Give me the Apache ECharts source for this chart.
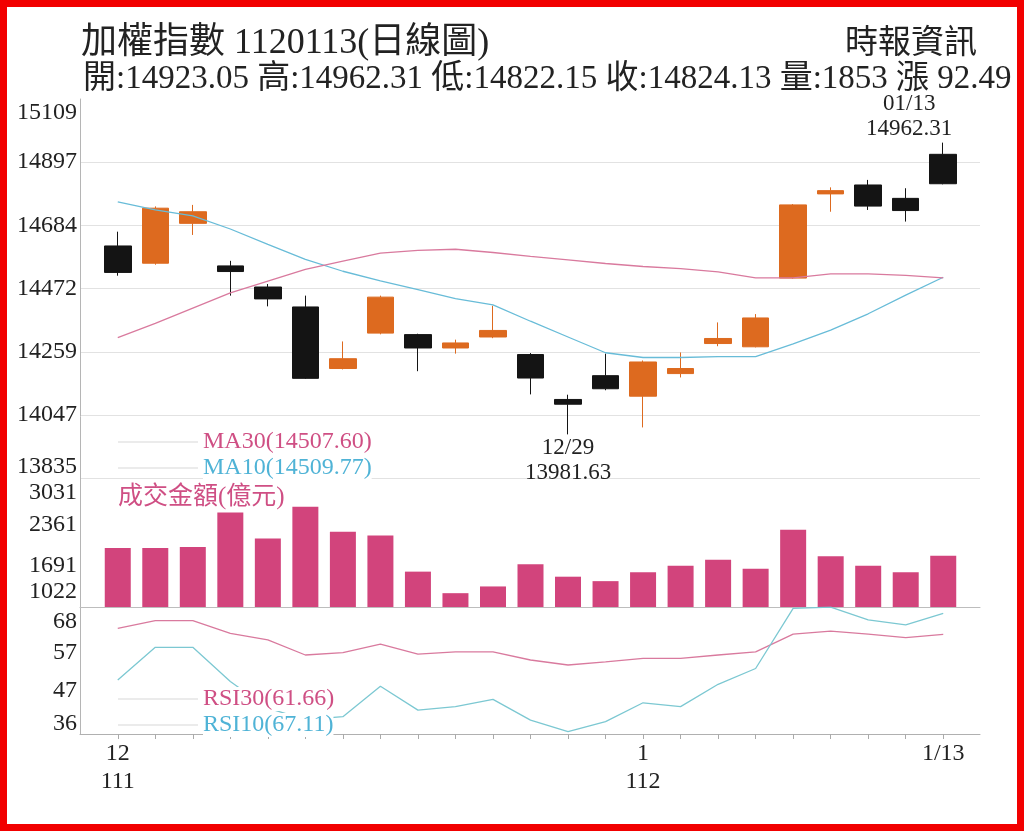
<!DOCTYPE html>
<html>
<head>
<meta charset="utf-8">
<title>加權指數 1120113(日線圖)</title>
<script src="https://cdn.jsdelivr.net/npm/echarts@6/dist/echarts.min.js"></script>
<style>
  html, body { margin: 0; padding: 0; background: #fff; }
  #main { width: 1024px; height: 831px; }
</style>
</head>
<body>
<div id="main"></div>
<script>
// 交易日 111/12/13 ~ 112/01/13
var dates = ['12/13', '12/14', '12/15', '12/16', '12/19', '12/20', '12/21', '12/22', '12/23', '12/26',
  '12/27', '12/28', '12/29', '12/30', '01/03', '01/04', '01/05', '01/06', '01/09', '01/10',
  '01/11', '01/12', '01/13'];
// K 線
var opens  = [14615, 14557, 14691, 14548, 14477, 14410, 14203, 14322, 14317, 14272,
  14309, 14250, 14099, 14179, 14110, 14186, 14287, 14276, 14507, 14790,
  14820, 14775, 14923.05];
var closes = [14526, 14742, 14730, 14529, 14437, 14170, 14236, 14443, 14272, 14289,
  14331, 14171, 14083, 14135, 14225, 14203, 14304, 14373, 14753, 14801,
  14749, 14734, 14824.13];
var lows   = [14515, 14552, 14652, 14448, 14412, 14168, 14200, 14318, 14194, 14253,
  14305, 14116, 13981.63, 14130, 14005, 14173, 14278, 14274, 14505, 14730,
  14736, 14697, 14822.15];
var highs  = [14663, 14748, 14753, 14565, 14487, 14448, 14294, 14448, 14320, 14300,
  14414, 14255, 14115, 14253, 14230, 14257, 14358, 14386, 14756, 14812,
  14837, 14809, 14962.31];
// 均線
var ma10 = [14763, 14736, 14716, 14672, 14620, 14570, 14530, 14498, 14468, 14438,
  14417, 14362, 14309, 14256, 14240, 14240, 14243, 14243, 14286, 14332,
  14387, 14450, 14509.77];
var ma30 = [14307, 14355, 14406, 14457, 14497, 14536, 14564, 14591, 14600, 14604,
  14593, 14580, 14568, 14556, 14546, 14539, 14528, 14508, 14508, 14521,
  14521, 14516, 14507.60];
// 成交金額(億元)
var vols = [1978, 1978, 1993, 2553, 2131, 2648, 2241, 2180, 1595, 1246,
  1355, 1714, 1513, 1441, 1585, 1691, 1786, 1642, 2274, 1843,
  1691, 1585, 1853];
// RSI
var rsi30 = [63.2, 65.2, 65.2, 61.9, 60.2, 56.3, 56.9, 59.1, 56.5, 57.1,
  57.1, 55.0, 53.7, 54.5, 55.4, 55.4, 56.3, 57.1, 61.7, 62.5,
  61.7, 60.8, 61.66];
var rsi10 = [49.8, 58.3, 58.3, 49.4, 42.5, 39.5, 40.3, 48.2, 42.0, 42.9,
  44.8, 39.4, 36.4, 39.0, 43.9, 42.9, 48.7, 52.8, 68.4, 68.7,
  65.4, 64.1, 67.11];
// 刻度
var priceTicks = [13835, 14047, 14259, 14472, 14684, 14897, 15109];
var volTicks = [1022, 1691, 2361, 3031];
var rsiTicks = [36, 47, 57, 68];
var xTickIndex = [0, 14, 22];
var xTickText = ['12\n111', '1\n112', '1/13'];

var FONT = '"Liberation Serif", "DejaVu Serif", "Noto Sans CJK TC", serif';
var PINK = '#cf4f84';
var BLUE = '#4fb3d6';
var last = dates.length - 1;

var iHi = highs.indexOf(Math.max.apply(null, highs));
var iLo = lows.indexOf(Math.min.apply(null, lows));

// 兩端刻度文字往內縮
function edgeAxis(ticks, downPad, upPad) {
  var base = {fontSize: 24, fontFamily: FONT, color: '#222'};
  return {
    customValues: ticks,
    fontSize: 24, fontFamily: FONT, color: '#222', margin: 3,
    formatter: function (v) {
      if (v === ticks[ticks.length - 1]) return '{dn|' + v + '}';
      if (v === ticks[0]) return '{up|' + v + '}';
      return '{n|' + v + '}';
    },
    rich: {
      n: base,
      dn: Object.assign({padding: [downPad, 0, 0, 0]}, base),
      up: Object.assign({padding: [0, 0, upPad, 0]}, base)
    }
  };
}

var frame = {left: 80, right: 44};
var plot = {left: 99, width: 863};

var myChart = echarts.init(document.getElementById('main'));
myChart.setOption({
  animation: false,
  backgroundColor: '#fff',
  title: [
    {text: '加權指數 1120113(日線圖)', left: 76, top: 21,
      textStyle: {fontSize: 36, fontWeight: 'normal', color: '#222', fontFamily: FONT}},
    {text: '開:14923.05 高:14962.31 低:14822.15 收:14824.13 量:1853 漲 92.49', left: 78, top: 58,
      textStyle: {fontSize: 33, fontWeight: 'normal', color: '#222', fontFamily: FONT}},
    {text: '時報資訊', right: 42, top: 23,
      textStyle: {fontSize: 33, fontWeight: 'normal', color: '#222', fontFamily: FONT}}
  ],
  legend: [
    {orient: 'vertical', left: 113, top: 425, itemWidth: 80, itemHeight: 1, itemGap: 2,
      icon: 'rect', itemStyle: {color: '#d8d8d8', borderWidth: 0},
      textStyle: {fontSize: 24, fontFamily: FONT, backgroundColor: '#fff'},
      formatter: function (name) {
        var v = name === 'MA30' ? ma30[last] : ma10[last];
        return name + '(' + v.toFixed(2) + ')';
      },
      data: [{name: 'MA30', textStyle: {color: PINK}}, {name: 'MA10', textStyle: {color: BLUE}}]},
    {left: 108, top: 480, itemWidth: 0, itemHeight: 0,
      textStyle: {fontSize: 25, fontFamily: FONT, color: PINK},
      data: [{name: '成交金額(億元)', icon: 'none'}]},
    {orient: 'vertical', left: 113, top: 682, itemWidth: 80, itemHeight: 1, itemGap: 2,
      icon: 'rect', itemStyle: {color: '#d8d8d8', borderWidth: 0},
      textStyle: {fontSize: 24, fontFamily: FONT, backgroundColor: '#fff'},
      formatter: function (name) {
        var v = name === 'RSI30' ? rsi30[last] : rsi10[last];
        return name + '(' + v.toFixed(2) + ')';
      },
      data: [{name: 'RSI30', textStyle: {color: PINK}}, {name: 'RSI10', textStyle: {color: BLUE}}]}
  ],
  grid: [
    Object.assign({top: 99, height: 379}, frame),
    Object.assign({top: 99, height: 379}, plot),
    Object.assign({top: 483, height: 124}, frame),
    Object.assign({top: 483, height: 124}, plot),
    Object.assign({top: 607, height: 127}, frame),
    Object.assign({top: 607, height: 127}, plot),
    Object.assign({top: 99, height: 635}, frame)
  ],
  xAxis: [
    {gridIndex: 0, type: 'value', min: 0, max: 1, show: false},
    {gridIndex: 1, type: 'category', data: dates, show: false},
    {gridIndex: 2, type: 'value', min: 0, max: 1, axisLabel: {show: false}, axisTick: {show: false},
      splitLine: {show: false}, axisLine: {lineStyle: {color: '#bdbdbd'}}},
    {gridIndex: 3, type: 'category', data: dates, show: false},
    {gridIndex: 4, type: 'value', min: 0, max: 1, axisLabel: {show: false}, axisTick: {show: false},
      splitLine: {show: false}, axisLine: {lineStyle: {color: '#b0b0b0'}}},
    {gridIndex: 5, type: 'category', data: dates,
      axisLine: {show: false},
      axisTick: {show: true, alignWithLabel: true, interval: 0, length: 5, lineStyle: {color: '#aaa'}},
      axisLabel: {interval: 0, margin: 6, fontSize: 24, lineHeight: 28, fontFamily: FONT, color: '#222',
        formatter: function (v, i) {
          var k = xTickIndex.indexOf(i);
          return k < 0 ? '' : xTickText[k];
        }}},
    {gridIndex: 6, type: 'value', min: 0, max: 1, show: false}
  ],
  yAxis: [
    {gridIndex: 0, type: 'value', min: priceTicks[0], max: priceTicks[priceTicks.length - 1],
      axisLine: {show: false}, axisTick: {show: false, customValues: priceTicks},
      axisLabel: edgeAxis(priceTicks, 28, 22),
      splitLine: {show: true, showMaxLine: false, lineStyle: {color: '#e2e2e2'}}},
    {gridIndex: 1, type: 'value', min: priceTicks[0], max: priceTicks[priceTicks.length - 1], show: false},
    {gridIndex: 2, type: 'value', min: volTicks[0], max: volTicks[volTicks.length - 1],
      axisLine: {show: false}, axisTick: {show: false, customValues: volTicks},
      axisLabel: edgeAxis(volTicks, 20, 30), splitLine: {show: false}},
    {gridIndex: 3, type: 'value', min: volTicks[0], max: volTicks[volTicks.length - 1], show: false},
    {gridIndex: 4, type: 'value', min: 35.8, max: 68.75,
      axisLine: {show: false}, axisTick: {show: false, customValues: rsiTicks},
      axisLabel: edgeAxis(rsiTicks, 24, 20), splitLine: {show: false}},
    {gridIndex: 5, type: 'value', min: 35.8, max: 68.75, show: false},
    {gridIndex: 6, type: 'value', min: 0, max: 1, position: 'right',
      axisLine: {show: true, lineStyle: {color: '#b5b5b5'}}, axisTick: {show: false},
      axisLabel: {show: false}, splitLine: {show: false}}
  ],
  series: [
    {
      name: '加權指數', type: 'candlestick', xAxisIndex: 1, yAxisIndex: 1, barWidth: 27,
      data: dates.map(function (d, i) { return [opens[i], closes[i], lows[i], highs[i]]; }),
      itemStyle: {color: '#dd6a1f', color0: '#141414', borderColor: '#dd6a1f', borderColor0: '#141414', borderWidth: 1},
      markPoint: {
        symbol: 'rect', symbolSize: 1, itemStyle: {color: 'rgba(0,0,0,0)'},
        label: {color: '#222', fontFamily: FONT, fontSize: 23, lineHeight: 25},
        data: [
          {coord: [dates[iHi], highs[iHi]], value: highs[iHi],
            label: {position: 'top', distance: 1, offset: [-34, 0],
              formatter: dates[iHi] + '\n' + highs[iHi].toFixed(2)}},
          {coord: [dates[iLo], lows[iLo]], value: lows[iLo],
            label: {position: 'bottom', distance: 1,
              formatter: dates[iLo] + '\n' + lows[iLo].toFixed(2)}}
        ]
      }
    },
    {name: 'MA10', type: 'line', xAxisIndex: 1, yAxisIndex: 1, data: ma10, symbol: 'none',
      lineStyle: {color: '#68bcd8', width: 1.3}, itemStyle: {color: '#68bcd8'}},
    {name: 'MA30', type: 'line', xAxisIndex: 1, yAxisIndex: 1, data: ma30, symbol: 'none',
      lineStyle: {color: '#d97a9e', width: 1.3}, itemStyle: {color: '#d97a9e'}},
    {name: '成交金額(億元)', type: 'bar', xAxisIndex: 3, yAxisIndex: 3, data: vols, barWidth: 26,
      itemStyle: {color: '#d2447c'}},
    {name: 'RSI30', type: 'line', xAxisIndex: 5, yAxisIndex: 5, data: rsi30, symbol: 'none',
      lineStyle: {color: '#d97a9e', width: 1.3}, itemStyle: {color: '#d97a9e'}},
    {name: 'RSI10', type: 'line', xAxisIndex: 5, yAxisIndex: 5, data: rsi10, symbol: 'none',
      lineStyle: {color: '#7cc8d2', width: 1.3}, itemStyle: {color: '#7cc8d2'}}
  ],
  graphic: [
    {type: 'rect', silent: true, z: 100,
      shape: {x: 3.5, y: 3.5, width: 1017, height: 824},
      style: {fill: 'none', stroke: '#f20000', lineWidth: 7}}
  ]
});
</script>
</body>
</html>
